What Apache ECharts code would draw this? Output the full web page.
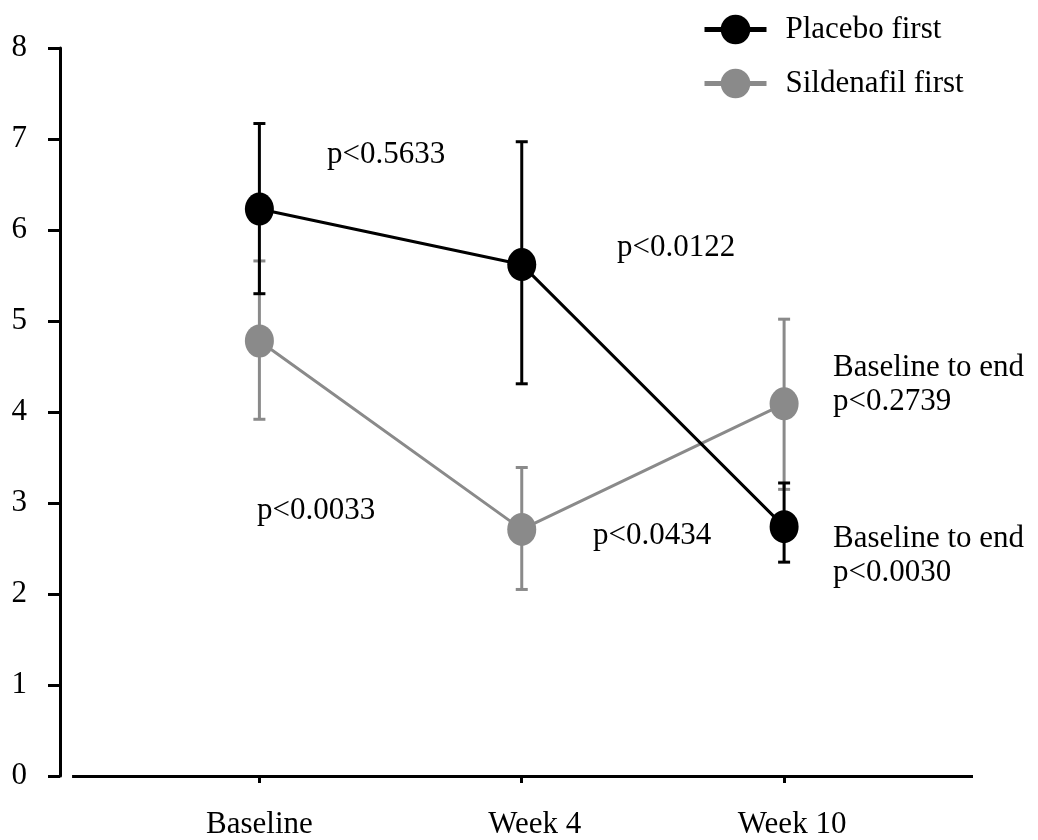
<!DOCTYPE html>
<html>
<head>
<meta charset="utf-8">
<script src="https://cdn.jsdelivr.net/npm/echarts@6/dist/echarts.min.js"></script>
<style>html,body{margin:0;padding:0;background:#fff}#c{width:1038px;height:840px}</style>
</head>
<body>
<div id="c"></div>
<script>
const categories = ['Baseline', 'Week 4', 'Week 10'];
const yTicks = [0, 1, 2, 3, 4, 5, 6, 7, 8];
const placeboMean = [6.23, 5.62, 2.74];
const placeboLow = [5.30, 4.31, 2.35];
const placeboHigh = [7.17, 6.97, 3.22];
const sildenafilMean = [4.78, 2.71, 4.09];
const sildenafilLow = [3.92, 2.05, 3.15];
const sildenafilHigh = [5.66, 3.39, 5.02];
const seriesNames = ['Placebo first', 'Sildenafil first'];
const annotations = [
  {text: 'p<0.5633', x: 327, y: 156},
  {text: 'p<0.0122', x: 617, y: 249},
  {text: 'p<0.0033', x: 257, y: 512},
  {text: 'p<0.0434', x: 593, y: 537},
  {text: 'Baseline to end\np<0.2739', x: 833, y: 385},
  {text: 'Baseline to end\np<0.0030', x: 833, y: 556}
];

const FONT = 'Liberation Serif';
const FS = 31;
const BLACK = '#000';
const GREY = '#8a8a8a';

const chart = echarts.init(document.getElementById('c'));

function pts(arr) { return arr.map((v, i) => [i, v]); }
function errData(low, high) { return low.map((l, i) => [i, l, high[i]]); }
function errRender(color, width) {
  return function (params, api) {
    const x = api.value(0);
    const lo = api.coord([x, api.value(1)]);
    const hi = api.coord([x, api.value(2)]);
    const cap = 6;
    const st = {stroke: color, lineWidth: width};
    return {
      type: 'group',
      children: [
        {type: 'line', shape: {x1: lo[0], y1: lo[1], x2: hi[0], y2: hi[1]}, style: st},
        {type: 'line', shape: {x1: lo[0] - cap, y1: lo[1], x2: lo[0] + cap, y2: lo[1]}, style: st},
        {type: 'line', shape: {x1: hi[0] - cap, y1: hi[1], x2: hi[0] + cap, y2: hi[1]}, style: st}
      ]
    };
  };
}

const option = {
  backgroundColor: '#fff',
  animation: false,
  grid: {left: 60, top: 48, width: 913, height: 730, containLabel: false},
  legend: {
    orient: 'vertical',
    left: 697, top: 9,
    itemWidth: 62, itemHeight: 37, itemGap: 23,
    data: seriesNames,
    lineStyle: {width: 5},
    textStyle: {fontFamily: FONT, fontSize: FS, color: BLACK, padding: [0, 0, 0, 14]}
  },
  xAxis: {
    type: 'value', min: -0.76, max: 2.72,
    axisLine: {show: false},
    splitLine: {show: false},
    axisTick: {show: true, customValues: [0, 1, 2], length: 7, lineStyle: {color: BLACK, width: 3}},
    axisLabel: {
      customValues: [0, 1, 2], margin: 33,
      formatter: v => {
        const i = Math.round(v);
        return '{c' + i + '|' + (categories[i] || '') + '}';
      },
      fontFamily: FONT, fontSize: FS, color: BLACK,
      rich: {
        c0: {fontFamily: FONT, fontSize: FS, color: BLACK},
        c1: {fontFamily: FONT, fontSize: FS, color: BLACK, padding: [0, 0, 0, 26]},
        c2: {fontFamily: FONT, fontSize: FS, color: BLACK, padding: [0, 0, 0, 16]}
      }
    }
  },
  yAxis: {
    type: 'value', min: yTicks[0], max: yTicks[yTicks.length - 1], interval: 1,
    axisLine: {show: true, onZero: false, lineStyle: {color: BLACK, width: 3}},
    axisTick: {show: true, length: 12, lineStyle: {color: BLACK, width: 3}},
    splitLine: {show: false},
    axisLabel: {margin: 33, fontFamily: FONT, fontSize: FS, color: BLACK}
  },
  series: [
    {
      type: 'line', name: 'axisBase', data: [], silent: true,
      markLine: {
        silent: true, symbol: 'none', label: {show: false},
        lineStyle: {color: BLACK, width: 3, type: 'solid'},
        data: [[{coord: [-0.714, 0]}, {coord: [2.72, 0]}]]
      }
    },
    {
      type: 'custom', name: 'sildErr', renderItem: errRender(GREY, 3),
      data: errData(sildenafilLow, sildenafilHigh), z: 2, silent: true
    },
    {
      type: 'line', name: seriesNames[1], data: pts(sildenafilMean), z: 3,
      symbol: 'circle', symbolSize: [29, 33],
      lineStyle: {color: GREY, width: 3},
      itemStyle: {color: GREY, borderWidth: 0}
    },
    {
      type: 'custom', name: 'placErr', renderItem: errRender(BLACK, 3),
      data: errData(placeboLow, placeboHigh), z: 4, silent: true
    },
    {
      type: 'line', name: seriesNames[0], data: pts(placeboMean), z: 5,
      symbol: 'circle', symbolSize: [29, 33],
      lineStyle: {color: BLACK, width: 3},
      itemStyle: {color: BLACK, borderWidth: 0}
    }
  ],
  graphic: annotations.map(a => ({
    type: 'text', left: a.x, top: a.y - (a.text.indexOf('\n') >= 0 ? 34 : 18),
    style: {text: a.text, font: FS + 'px "' + FONT + '"', fill: BLACK, lineHeight: 34}
  }))
};
chart.setOption(option);
</script>
</body>
</html>
